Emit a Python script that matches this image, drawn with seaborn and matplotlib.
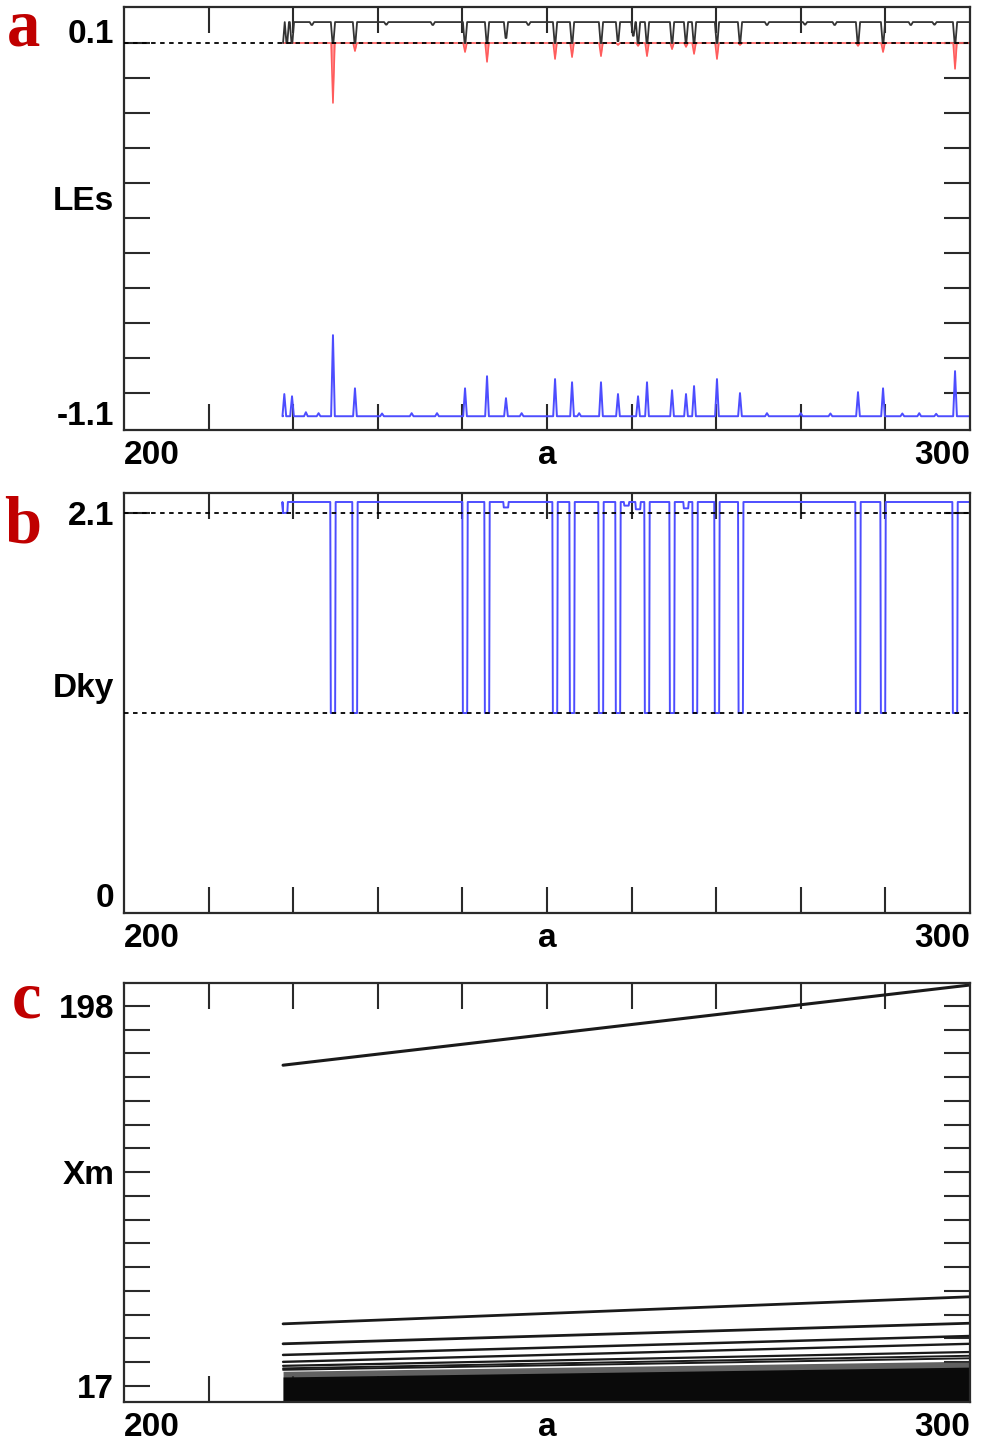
import numpy as np
import pandas as pd
import matplotlib.pyplot as plt
import seaborn as sns

# range of a where the orbit was computed
a_first, a_last = 218.8, 300.0

# --- panel a: Lyapunov exponents ---
le1_level, le1_start = 0.128, 0.062
le1_pos = [219.25, 219.85, 222.2, 224.70, 227.30, 231.0, 236.5, 240.31, 242.91, 245.15,
           247.8, 250.95, 252.96, 256.38, 258.39, 260.20, 260.76, 261.82, 264.78, 266.43,
           267.38, 270.09, 272.81, 276.0, 280.5, 284.0, 286.76, 289.72, 293.0, 295.8, 298.23]
le1_tip = [0.062, 0.062, 0.119, 0.062, 0.062, 0.120, 0.119, 0.062, 0.062, 0.078,
           0.119, 0.062, 0.062, 0.062, 0.068, 0.085, 0.062, 0.062, 0.062, 0.066,
           0.062, 0.062, 0.066, 0.119, 0.120, 0.119, 0.062, 0.062, 0.119, 0.120, 0.062]

le2_level = 0.0623
le2_pos = [224.70, 227.30, 240.31, 242.91, 250.95, 252.96, 256.38, 258.39, 260.76,
           261.82, 264.78, 266.43, 267.38, 270.09, 272.81, 286.76, 289.72, 298.23]
le2_tip = [-0.126, 0.037, 0.034, 0.003, 0.012, 0.018, 0.021, 0.056, 0.053,
           0.021, 0.043, 0.050, 0.028, 0.012, 0.056, 0.053, 0.034, -0.019]

le3_level = -1.1096
le3_pos = [218.95, 219.86, 221.5, 223.0, 224.70, 227.30, 230.5, 234.0, 237.0, 240.31,
           242.91, 245.15, 247.0, 250.95, 252.96, 253.8, 256.38, 258.39, 260.76, 261.82,
           264.78, 266.43, 267.38, 270.09, 272.81, 276.0, 280.0, 283.5, 286.76, 289.72,
           292.0, 294.0, 296.0, 298.23]
le3_tip = [-1.040, -1.047, -1.097, -1.100, -0.855, -1.022, -1.101, -1.100, -1.100, -1.022,
           -0.984, -1.053, -1.100, -0.993, -1.003, -1.100, -1.003, -1.040, -1.047, -1.003,
           -1.028, -1.040, -1.015, -0.993, -1.037, -1.100, -1.100, -1.101, -1.034, -1.022,
           -1.101, -1.100, -1.102, -0.968]

# --- panel b: Kaplan-Yorke dimension ---
dky_level, dky_start = 2.16, 2.10
dky_pos = [219.05, 224.70, 227.30, 240.31, 242.91, 245.15, 250.95, 252.96, 256.38, 258.39,
           259.4, 260.76, 261.82, 264.78, 266.43, 267.5, 270.09, 272.9, 286.76, 289.72, 298.23]
dky_tip = [2.10, 1.0, 1.0, 1.0, 1.0, 2.13, 1.0, 1.0, 1.0, 1.0,
           2.14, 2.12, 1.0, 1.0, 2.125, 1.0, 1.0, 1.0, 1.0, 1.0, 1.0]

# --- panel c: local maxima Xm ---
xm_start = [169.8, 46.6, 37.1, 31.8, 28.5, 26.6, 25.4, 24.7]
xm_end = [208.0, 59.5, 46.9, 40.8, 37.1, 33.2, 31.4, 30.2]
xm_width = [2.2, 2.0, 2.0, 1.8, 1.7, 1.6, 1.4, 1.4]
band_bottom = [9.4, 9.4]
band_core = [21.3, 26.0]
band_haze = [24.0, 28.8]


def trace(level, pos, tip, half, flat=0.0, start=None):
    xs = [a_first]
    ys = [level if start is None else start]
    for p, t in sorted(zip(pos, tip)):
        if flat > 0:
            xs += [p - half, p - half * flat, p + half * flat, p + half]
            ys += [level, t, t, level]
        else:
            xs += [p - half, p, p + half]
            ys += [level, t, level]
    xs.append(a_last)
    ys.append(level)
    return pd.DataFrame({'a': xs, 'v': ys})


sns.set_theme(style='white')
plt.rcParams['font.family'] = ['Liberation Sans', 'DejaVu Sans']
plt.rcParams['font.weight'] = 'bold'

fig = plt.figure(figsize=(9.81, 14.48), dpi=100)
ax_a = fig.add_axes([0.1264, 0.7030, 0.8624, 0.2921])
ax_b = fig.add_axes([0.1264, 0.3695, 0.8624, 0.2901])
ax_c = fig.add_axes([0.1264, 0.0318, 0.8624, 0.2894])


def style_axis(ax, ylim, yticks, ylabels, ymarks):
    ax.set(xlabel='', ylabel='')
    ax.set_xlim(200, 300)
    ax.set_ylim(*ylim)
    ax.xaxis.remove_overlapping_locs = False
    ax.yaxis.remove_overlapping_locs = False
    ax.set_xticks([200, 250, 300], ['200', 'a', '300'])
    ax.set_xticks(np.arange(210, 300, 10), minor=True)
    ax.set_yticks(yticks, ylabels)
    ax.set_yticks(ymarks, minor=True)
    ax.tick_params(which='major', length=0, labelsize=24, pad=7, colors='black')
    ax.tick_params(which='minor', direction='in', length=19, width=1.5, color='#2a2a2a',
                   top=True, bottom=True, left=True, right=True)
    xl = ax.get_xticklabels()
    xl[0].set_ha('left')
    xl[-1].set_ha('right')
    for s in ax.spines.values():
        s.set_linewidth(1.6)
        s.set_color('#2a2a2a')
        s.set_visible(True)


dash = dict(color='black', lw=1.3, ls=(0, (2.5, 2.5)), zorder=3)

# panel a
le1 = trace(le1_level, le1_pos, le1_tip, 0.25, flat=0.2, start=le1_start)
le2 = trace(le2_level, le2_pos, le2_tip, 0.22)
le3 = trace(le3_level, le3_pos, le3_tip, 0.22)
ax_a.fill_between(le2['a'], le2['v'], le2_level, color='#ff7070', alpha=0.7, lw=0)
sns.lineplot(data=le2, x='a', y='v', sort=False, estimator=None, color='#ff5c5c', lw=1.2, ax=ax_a)
sns.lineplot(data=le1, x='a', y='v', sort=False, estimator=None, color='#333333', lw=1.3, ax=ax_a)
sns.lineplot(data=le3, x='a', y='v', sort=False, estimator=None, color='#4d4dff', lw=1.4, ax=ax_a)
ax_a.axhline(le2_level, **dash)
style_axis(ax_a, (-1.153, 0.175), [0.1, -0.4247, -1.1], ['0.1', 'LEs', '-1.1'],
           np.arange(0.0623, -1.1, -0.110))

# panel b
dky = trace(dky_level, dky_pos, dky_tip, 0.32, flat=0.8, start=dky_start)
ax_b.axhline(2.1, **dash)
ax_b.axhline(1.0, **dash)
sns.lineplot(data=dky, x='a', y='v', sort=False, estimator=None, color='#4d4dff', lw=1.4, ax=ax_b)
style_axis(ax_b, (-0.099, 2.21), [2.1, 1.154, 0], ['2.1', 'Dky', '0'], [2.1])

# panel c
ax_c.fill_between([a_first, a_last], band_bottom, band_haze, color='#3a3a3a', alpha=0.8, lw=0)
ax_c.fill_between([a_first, a_last], band_bottom, band_core, color='#0a0a0a', lw=0)
for s, e, w in zip(xm_start, xm_end, xm_width):
    seg = pd.DataFrame({'a': [a_first, a_last], 'v': [s, e]})
    sns.lineplot(data=seg, x='a', y='v', sort=False, estimator=None, color='#1a1a1a', lw=w, ax=ax_c)
style_axis(ax_c, (9.4, 209.0), [198, 118.7, 17], ['198', 'Xm', '17'], np.linspace(17, 198, 17))

# panel letters
letter = dict(family=['Liberation Serif', 'DejaVu Serif'], fontsize=48, fontweight='bold',
              color='#c00000', va='baseline', ha='left')
fig.text(7 / 981, 1 - 46 / 1448, 'a', **letter)
fig.text(4 / 981, 1 - 542 / 1448, 'b', **letter)
fig.text(12 / 981, 1 - 1017 / 1448, 'c', **letter)

fig.savefig('out.png', dpi=100)
